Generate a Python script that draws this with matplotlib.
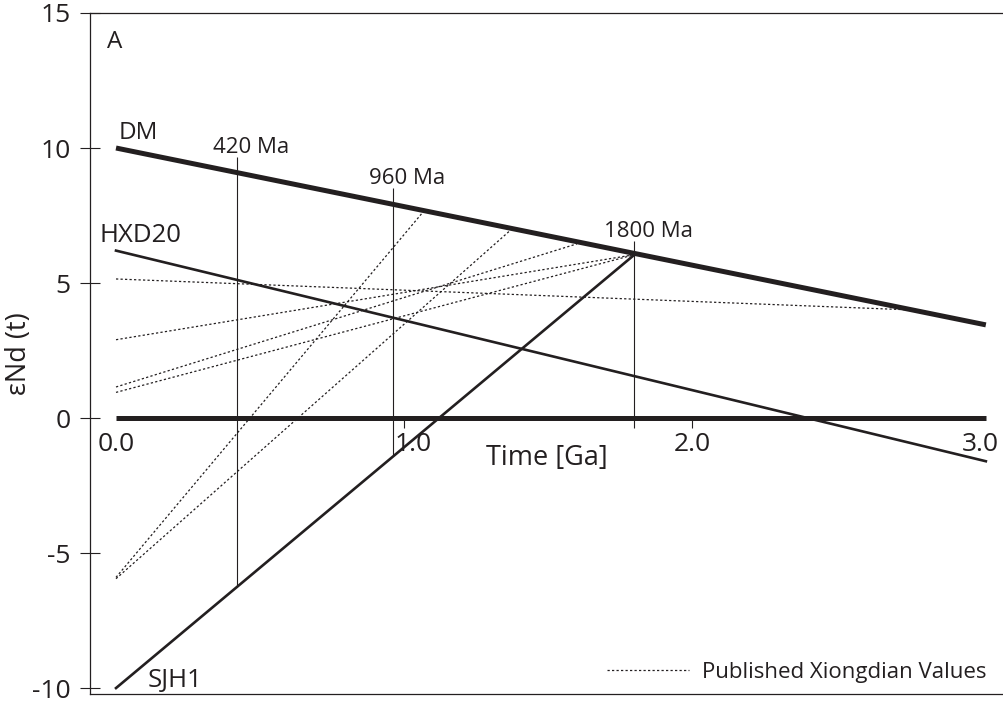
import matplotlib.pyplot as plt
from matplotlib.transforms import ScaledTranslation

plt.rcParams['font.family'] = ['Open Sans', 'DejaVu Sans']
plt.rcParams['axes.unicode_minus'] = False

ink = '#231f20'

# evolution lines, time in Ga, eNd(t)
dm_t = [0.0, 3.02]
dm_e = [10.0, 3.45]
chur_t = [0.0, 3.02]
chur_e = [0.0, 0.0]
hxd20_t = [0.0, 3.02]
hxd20_e = [6.2, -1.6]
sjh1_t = [0.0, 1.8]
sjh1_e = [-10.0, 6.05]

# published Xiongdian values: present-day eNd and where each meets DM
pub_e0 = [5.15, 2.9, 1.15, 0.95, -5.9, -5.95]
pub_tdm = [2.77, 1.8, 1.6, 1.8, 1.066, 1.37]
pub_edm = [4.0, 6.05, 6.45, 6.05, 7.63, 6.96]

# model age markers
age_t = [0.42, 0.96, 1.8]
age_top = [9.67, 8.52, 6.56]
age_bot = [-6.26, -1.37, -0.37]
age_lbl = ['420 Ma', '960 Ma', '1800 Ma']

y_ticks = [-10, -5, 0, 5, 10, 15]
x_ticks = [0, 1, 2, 3]
x_lbls = ['0.0', '1.0', '2.0', '3.0']

fig = plt.figure(figsize=(10.04, 7.04), dpi=100)
ax = fig.add_axes([90/1004, 10/704, 914/1004, 681/704])
ylo, yhi = -10.22, 15.0
ax.set_xlim(-0.0903, 3.083)
ax.set_ylim(ylo, yhi)

for i in range(len(pub_e0)):
    ax.plot([0, pub_tdm[i]], [pub_e0[i], pub_edm[i]], color=ink, lw=0.9,
            linestyle=(0, (1.8, 1.8)),
            label='Published Xiongdian Values' if i == 0 else None)

ax.vlines(age_t, age_bot, age_top, color=ink, lw=0.8)
ax.plot(chur_t, chur_e, color=ink, lw=3.6, solid_capstyle='butt')
ax.plot(dm_t, dm_e, color=ink, lw=3.6, solid_capstyle='butt')
ax.plot(hxd20_t, hxd20_e, color=ink, lw=1.9)
ax.plot(sjh1_t, sjh1_e, color=ink, lw=1.9)

# labels
ax.text(-0.031, 13.93, 'A', fontsize=17.5, color=ink, va='center', ha='left')
ax.text(0.010, 10.33, 'DM', fontsize=17.5, color=ink, va='baseline')
ax.text(-0.059, 6.52, 'HXD20', fontsize=18.5, color=ink, va='baseline')
ax.text(0.111, -9.96, 'SJH1', fontsize=18.5, color=ink, va='baseline')
for t, top, lbl in zip(age_t, age_top, age_lbl):
    ax.text(t + 0.05, top + 0.14, lbl, fontsize=16, color=ink,
            ha='center', va='baseline')

# frame
ax.spines['right'].set_visible(False)
for s in ['left', 'top', 'bottom']:
    ax.spines[s].set_linewidth(0.9)
    ax.spines[s].set_color(ink)

ax.set_xticks([])
ax.set_yticks(y_ticks)
ax.tick_params(axis='y', direction='inout', length=13.7, width=0.8, pad=7,
               labelsize=19, colors=ink)
ax.set_ylabel('εNd (t)', fontsize=19.5, color=ink)
ax.yaxis.set_label_coords(-0.0624, 0.5)

# time axis sits on eNd = 0
sec = ax.secondary_xaxis((0 - ylo) / (yhi - ylo))
for s in sec.spines.values():
    s.set_visible(False)
sec.set_xticks(x_ticks)
sec.set_xticklabels(x_lbls)
sec.tick_params(axis='x', direction='out', length=7, width=0.8, pad=3,
                labelsize=19, colors=ink)
for k, tk in enumerate(sec.xaxis.get_major_ticks()):
    if k in (0, 3):
        tk.tick1line.set_visible(False)
    if k == 1:
        # the 1.0 label sits a little right of its tick in the original
        tk.label1.set_transform(tk.label1.get_transform()
                                + ScaledTranslation(0.09, 0, fig.dpi_scale_trans))

ax.text(0.5, (694 - 458) / 681, 'Time [Ga]', transform=ax.transAxes,
        fontsize=19.5, color=ink, ha='center', va='center')

leg = ax.legend(loc='lower right', bbox_to_anchor=(987/1004, 21/704),
                bbox_transform=fig.transFigure, frameon=False, fontsize=16,
                handlelength=3.7, handletextpad=0.59, borderpad=0,
                borderaxespad=0)
for txt in leg.get_texts():
    txt.set_color(ink)

fig.savefig('out.png', dpi=100)
